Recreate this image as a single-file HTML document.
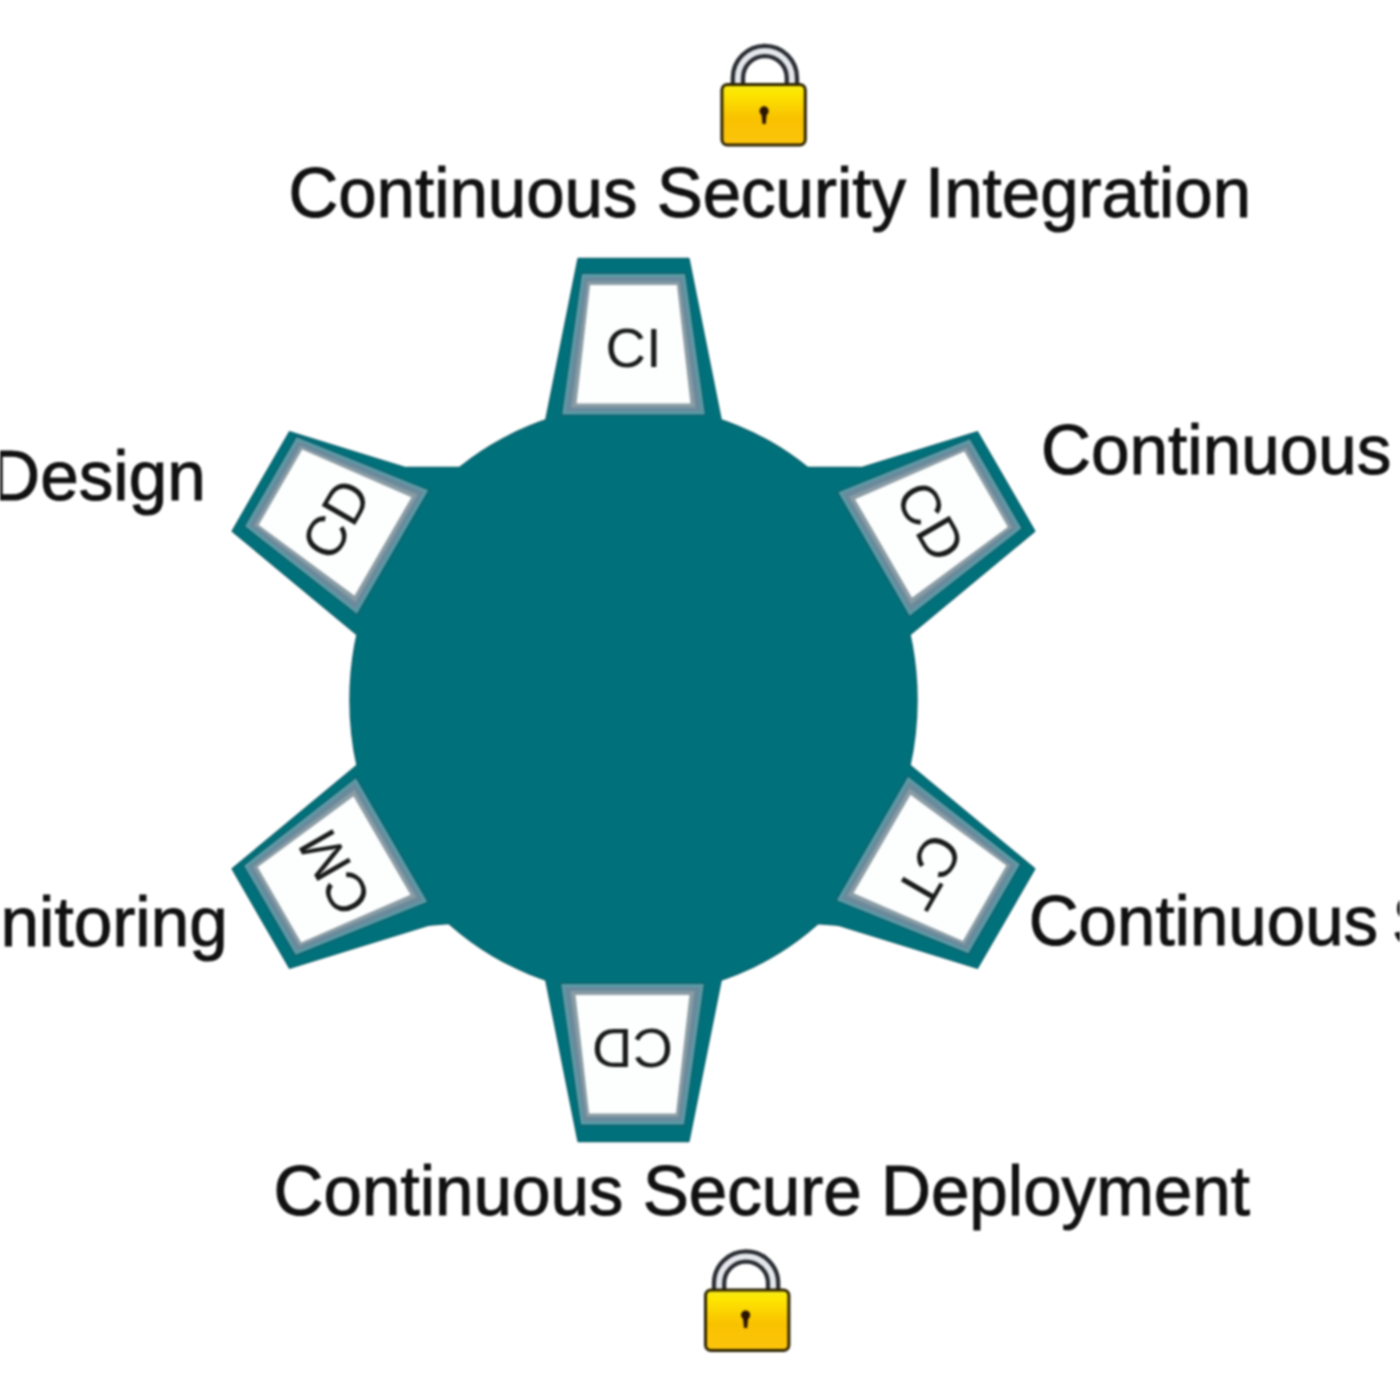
<!DOCTYPE html>
<html><head><meta charset="utf-8"><style>
html,body{margin:0;padding:0;background:#fff;width:1400px;height:1400px;overflow:hidden}
svg{display:block;filter:blur(1px)}
</style></head><body>
<svg width="1400" height="1400" viewBox="0 0 1400 1400">
<defs>
<linearGradient id="lockg" x1="0" y1="0" x2="0" y2="1">
<stop offset="0" stop-color="#f6ea1a"/><stop offset="0.15" stop-color="#fde600"/>
<stop offset="0.55" stop-color="#f9c200"/><stop offset="1" stop-color="#fcc40c"/>
</linearGradient>
</defs>
<rect width="1400" height="1400" fill="#fff"/>
<g transform="translate(720.4,82.9)">
  <path d="M17.5,3 V-5 A27,27 0 0 1 71.5,-5 V3" fill="none" stroke="#2a2d33" stroke-width="14.5"/>
  <path d="M17.5,3 V-5 A27,27 0 0 1 71.5,-5 V3" fill="none" stroke="#e3e6ea" stroke-width="6"/>
  <rect x="1.5" y="1.5" width="83.4" height="60.6" rx="5.5" fill="url(#lockg)" stroke="#2e2400" stroke-width="3"/>
  <circle cx="43.7" cy="28" r="4.6" fill="#2a1500"/>
  <path d="M40.900000000000006,29 L46.5,29 L45.300000000000004,41 L42.1,41 Z" fill="#2a1500"/>
</g>
<g transform="translate(704,1288.4)">
  <path d="M15.100000000000001,3 V-5 A27,27 0 0 1 69.1,-5 V3" fill="none" stroke="#2a2d33" stroke-width="14.5"/>
  <path d="M15.100000000000001,3 V-5 A27,27 0 0 1 69.1,-5 V3" fill="none" stroke="#e3e6ea" stroke-width="6"/>
  <rect x="1.5" y="1.5" width="83.4" height="60.6" rx="5.5" fill="url(#lockg)" stroke="#2e2400" stroke-width="3"/>
  <circle cx="41.6" cy="26.6" r="4.6" fill="#2a1500"/>
  <path d="M38.800000000000004,27.6 L44.4,27.6 L43.2,39.6 L40.0,39.6 Z" fill="#2a1500"/>
</g>
<g font-family="Liberation Sans" font-size="71" fill="#111" stroke="#111" stroke-width="1">
<text transform="translate(288.4,216.5) scale(0.972,1)">Continuous Security Integration</text>
<text transform="translate(273.6,1214.8) scale(0.974,1)">Continuous Secure Deployment</text>
<text transform="translate(1040.9,473.5) scale(0.976,1)">Continuous Secure Build</text>
<text transform="translate(1028.7,944.8) scale(0.973,1)" word-spacing="-5.5">Continuous Security Testing</text>
<text transform="translate(205.8,499.6) scale(0.976,1)" text-anchor="end">Continuous Secure Design</text>
<text transform="translate(227.8,946.2) scale(0.976,1)" text-anchor="end">Continuous Monitoring</text>
</g>
<g fill="#0a5e69" stroke="#0a5e69" stroke-width="2.4" stroke-linejoin="round"><ellipse cx="633.5" cy="700" rx="283" ry="294"/>
<polygon transform="translate(633.5,700) rotate(0)" points="-55.0,-441.0 55.0,-441.0 95.2,-240.0 -95.2,-240.0"/>
<polygon transform="translate(633.5,700) rotate(60)" points="-60.0,-431.5 54.0,-431.5 86.7,-240.0 -103.5,-240.0"/>
<polygon transform="translate(633.5,700) rotate(120)" points="-54.0,-431.5 60.0,-431.5 103.5,-240.0 -86.7,-240.0"/>
<polygon transform="translate(633.5,700) rotate(180)" points="-55.0,-441.0 55.0,-441.0 95.2,-240.0 -95.2,-240.0"/>
<polygon transform="translate(633.5,700) rotate(240)" points="-60.0,-431.5 54.0,-431.5 86.7,-240.0 -103.5,-240.0"/>
<polygon transform="translate(633.5,700) rotate(300)" points="-54.0,-431.5 60.0,-431.5 103.5,-240.0 -86.7,-240.0"/>
<polygon points="395,472 407,468 462,468 470,482 420,492"/>
<polygon points="872,472 860,468 806,468 797,482 847,492"/>
<polygon points="423,925 449,923 456,910 425,905"/>
<polygon points="844,925 816,923 810,910 842,905"/></g>
<g fill="#00717a"><ellipse cx="633.5" cy="700" rx="283" ry="294"/>
<polygon transform="translate(633.5,700) rotate(0)" points="-55.0,-441.0 55.0,-441.0 95.2,-240.0 -95.2,-240.0"/>
<polygon transform="translate(633.5,700) rotate(60)" points="-60.0,-431.5 54.0,-431.5 86.7,-240.0 -103.5,-240.0"/>
<polygon transform="translate(633.5,700) rotate(120)" points="-54.0,-431.5 60.0,-431.5 103.5,-240.0 -86.7,-240.0"/>
<polygon transform="translate(633.5,700) rotate(180)" points="-55.0,-441.0 55.0,-441.0 95.2,-240.0 -95.2,-240.0"/>
<polygon transform="translate(633.5,700) rotate(240)" points="-60.0,-431.5 54.0,-431.5 86.7,-240.0 -103.5,-240.0"/>
<polygon transform="translate(633.5,700) rotate(300)" points="-54.0,-431.5 60.0,-431.5 103.5,-240.0 -86.7,-240.0"/>
<polygon points="395,472 407,468 462,468 470,482 420,492"/>
<polygon points="872,472 860,468 806,468 797,482 847,492"/>
<polygon points="423,925 449,923 456,910 425,905"/>
<polygon points="844,925 816,923 810,910 842,905"/></g>
<g transform="translate(633.5,700)">
<g transform="translate(0,-1.5) rotate(0)"><polygon points="-53.0,-426.5 53.0,-426.5 73.0,-282.0 -73.0,-282.0" fill="#0d6471"/><polygon points="-51.5,-424.5 51.5,-424.5 71.3,-284.0 -71.3,-284.0" fill="#5a9ca6"/><polygon points="-49.0,-421.5 49.0,-421.5 68.0,-287.0 -68.0,-287.0" fill="#6a8a9c"/><polygon points="-46.0,-417.0 46.0,-417.0 62.0,-291.0 -62.0,-291.0" fill="#8a9ca4"/><polygon points="-43.5,-413.5 43.5,-413.5 57.0,-295.0 -57.0,-295.0" fill="#fdfefe"/><text x="0" y="-331.5" text-anchor="middle" font-family="Liberation Sans" font-size="56" fill="#1a1a1a">CI</text></g>
<g transform="translate(-5.5,-4) rotate(60)"><polygon points="-53.0,-426.5 53.0,-426.5 73.0,-282.0 -73.0,-282.0" fill="#0d6471"/><polygon points="-51.5,-424.5 51.5,-424.5 71.3,-284.0 -71.3,-284.0" fill="#5a9ca6"/><polygon points="-49.0,-421.5 49.0,-421.5 68.0,-287.0 -68.0,-287.0" fill="#6a8a9c"/><polygon points="-46.0,-417.0 46.0,-417.0 62.0,-291.0 -62.0,-291.0" fill="#8a9ca4"/><polygon points="-43.5,-413.5 43.5,-413.5 57.0,-295.0 -57.0,-295.0" fill="#fdfefe"/><text x="0" y="-330" text-anchor="middle" font-family="Liberation Sans" font-size="56" fill="#1a1a1a">CD</text></g>
<g transform="translate(-7,-3.5) rotate(120)"><polygon points="-53.0,-426.5 53.0,-426.5 73.0,-282.0 -73.0,-282.0" fill="#0d6471"/><polygon points="-51.5,-424.5 51.5,-424.5 71.3,-284.0 -71.3,-284.0" fill="#5a9ca6"/><polygon points="-49.0,-421.5 49.0,-421.5 68.0,-287.0 -68.0,-287.0" fill="#6a8a9c"/><polygon points="-46.0,-417.0 46.0,-417.0 62.0,-291.0 -62.0,-291.0" fill="#8a9ca4"/><polygon points="-43.5,-413.5 43.5,-413.5 57.0,-295.0 -57.0,-295.0" fill="#fdfefe"/><text x="0" y="-330" text-anchor="middle" font-family="Liberation Sans" font-size="56" fill="#1a1a1a">CT</text></g>
<g transform="translate(-1,0) rotate(180)"><polygon points="-53.0,-426.5 53.0,-426.5 73.0,-282.0 -73.0,-282.0" fill="#0d6471"/><polygon points="-51.5,-424.5 51.5,-424.5 71.3,-284.0 -71.3,-284.0" fill="#5a9ca6"/><polygon points="-49.0,-421.5 49.0,-421.5 68.0,-287.0 -68.0,-287.0" fill="#6a8a9c"/><polygon points="-46.0,-417.0 46.0,-417.0 62.0,-291.0 -62.0,-291.0" fill="#8a9ca4"/><polygon points="-43.5,-413.5 43.5,-413.5 57.0,-295.0 -57.0,-295.0" fill="#fdfefe"/><text x="0" y="-329" text-anchor="middle" font-family="Liberation Sans" font-size="56" fill="#1a1a1a">CD</text></g>
<g transform="translate(4,-2) rotate(240)"><polygon points="-53.0,-426.5 53.0,-426.5 73.0,-282.0 -73.0,-282.0" fill="#0d6471"/><polygon points="-51.5,-424.5 51.5,-424.5 71.3,-284.0 -71.3,-284.0" fill="#5a9ca6"/><polygon points="-49.0,-421.5 49.0,-421.5 68.0,-287.0 -68.0,-287.0" fill="#6a8a9c"/><polygon points="-46.0,-417.0 46.0,-417.0 62.0,-291.0 -62.0,-291.0" fill="#8a9ca4"/><polygon points="-43.5,-413.5 43.5,-413.5 57.0,-295.0 -57.0,-295.0" fill="#fdfefe"/><text x="0" y="-330" text-anchor="middle" font-family="Liberation Sans" font-size="56" fill="#1a1a1a">CM</text></g>
<g transform="translate(5,-6) rotate(300)"><polygon points="-53.0,-426.5 53.0,-426.5 73.0,-282.0 -73.0,-282.0" fill="#0d6471"/><polygon points="-51.5,-424.5 51.5,-424.5 71.3,-284.0 -71.3,-284.0" fill="#5a9ca6"/><polygon points="-49.0,-421.5 49.0,-421.5 68.0,-287.0 -68.0,-287.0" fill="#6a8a9c"/><polygon points="-46.0,-417.0 46.0,-417.0 62.0,-291.0 -62.0,-291.0" fill="#8a9ca4"/><polygon points="-43.5,-413.5 43.5,-413.5 57.0,-295.0 -57.0,-295.0" fill="#fdfefe"/><text x="0" y="-330" text-anchor="middle" font-family="Liberation Sans" font-size="56" fill="#1a1a1a">CD</text></g>
</g>
</svg>
</body></html>
